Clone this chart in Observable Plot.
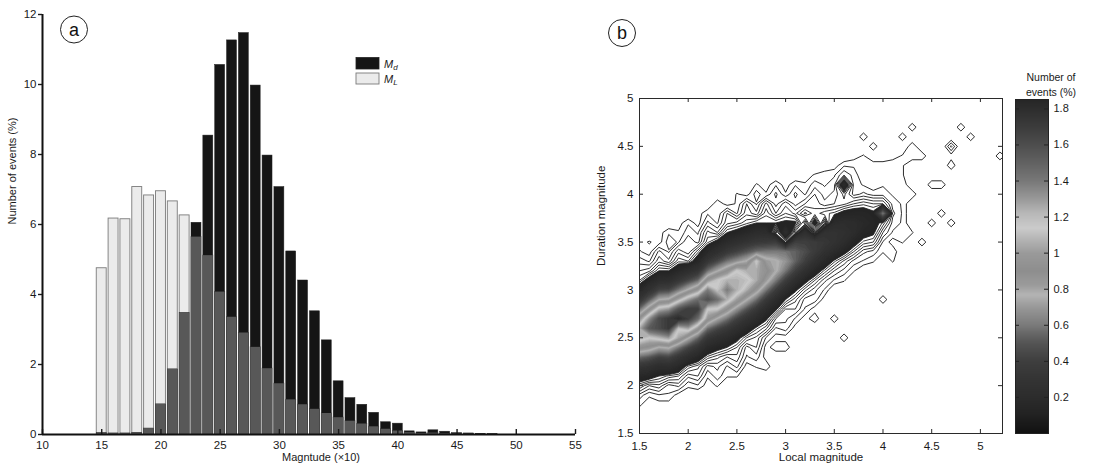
<!DOCTYPE html>
<html>
<head>
<meta charset="utf-8">
<script src="https://cdn.jsdelivr.net/npm/d3@7"></script>
<script src="https://cdn.jsdelivr.net/npm/@observablehq/plot@0.6"></script>
<style>
  body { margin: 0; background: #fff; }
  #fig { position: relative; width: 1096px; height: 468px; overflow: hidden; background: #fff; }
</style>
</head>
<body>
<div id="fig"></div>
<script>
// ---------- (a) magnitude histograms: bins are magnitude × 10 ----------
const magBins = [15,16,17,18,19,20,21,22,23,24,25,26,27,28,29,30,31,32,33,34,35,36,37,38,39,40,41,42,43,44,45,46,47,48];
// duration magnitude Md, % of events per bin
const mdPercent = [0.04,0.03,0.03,0.05,0.17,0.86,1.86,3.47,6.05,8.54,10.56,11.26,11.47,9.97,7.97,7.07,5.23,4.40,3.52,2.69,1.52,1.04,0.85,0.62,0.35,0.31,0.09,0.06,0.12,0.08,0.04,0.03,0.02,0.01];
// local magnitude ML, % of events per bin
const mlPercent = [4.75,6.17,6.15,7.07,6.83,6.95,6.66,6.26,5.64,5.11,4.07,3.35,2.90,2.49,1.88,1.45,0.99,0.85,0.72,0.60,0.48,0.38,0.30,0.22,0.15,0.10,0.05,0.03,0.04,0.02,0.01,0.01,0,0];
const magTicks = [10,15,20,25,30,35,40,45,50,55];
const pctTicks = [0,2,4,6,8,10,12];

// ---------- (b) joint distribution ML × Md, % of events per 0.1 × 0.1 cell ----------
// columns: local magnitude 1.5 … 5.2 (step 0.1); rows: duration magnitude 4.8 (top) … 1.7 (bottom)
// values are in hundredths of a percent
const localMagGrid = {first: 1.5, last: 5.2, step: 0.1};
const durationMagGrid = {first: 1.7, last: 4.8, step: 0.1};
const densityRows = [
  [0,0,0,0,0,0,0,0,0,0, 0,0,0,0,0,0,0,0,0,0, 0,0,0,0,0,0,0,0,0,0, 0,0,0,0,0,0,0,0], // 4.8
  [0,0,0,0,0,0,0,0,0,0, 0,0,0,0,0,0,0,0,0,0, 0,0,0,0,0,0,0,0,3,0, 0,0,0,3,0,0,0,0], // 4.7
  [0,0,0,0,0,0,0,0,0,0, 0,0,0,0,0,0,0,0,0,0, 0,0,0,3,0,0,0,3,0,0, 0,0,0,0,3,0,0,0], // 4.6
  [0,0,0,0,0,0,0,0,0,0, 0,0,0,0,0,0,0,0,0,0, 0,0,0,0,3,0,0,0,3,0, 0,0,5,0,0,0,0,0], // 4.5
  [0,0,0,0,0,0,0,0,0,0, 0,0,0,0,0,0,0,0,0,0, 0,0,1,2,0,0,1,2,3,3, 0,0,1,0,0,0,0,3], // 4.4
  [0,0,0,0,0,0,0,0,0,0, 0,0,0,0,0,0,0,0,0,0, 1,3,3,3,3,3,3,2,0,0, 0,0,3,0,0,0,0,0], // 4.3
  [0,0,0,0,0,0,0,0,0,0, 0,0,0,0,0,0,0,1,2,3, 3,6,4,2,3,3,2,2,0,0, 0,0,0,0,0,0,0,0], // 4.2
  [0,0,0,0,0,0,0,0,0,0, 0,0,2,1,3,1,3,2,4,3, 4,20,4,3,2,3,3,3,0,0, 3,3,0,0,0,0,0,0], // 4.1
  [0,0,0,0,0,0,0,0,0,0, 2,1,4,2,5,2,5,3,6,4, 5,8,4,5,4,4,3,2,3,0, 0,0,0,0,0,0,0,0], // 4.0
  [0,0,0,0,0,0,0,0,3,1, 2,6,3,8,4,7,4,6,7,5, 6,7,9,10,9,9,4,3,0,0, 0,0,0,0,0,0,0,0], // 3.9
  [0,0,0,0,0,0,1,3,2,6, 3,7,5,10,6,9,7,11,8,10, 11,14,15,15,13,60,5,3,0,0, 0,3,0,0,0,0,0,0], // 3.8
  [0,0,0,0,1,3,1,5,3,7, 8,10,12,12,12,13,13,3,16,3, 20,22,21,18,15,10,4,3,0,0, 3,0,3,0,0,0,0,0], // 3.7
  [0,0,1,3,2,4,3,8,6,12, 14,17,21,22,4,23,5,26,4,28, 29,26,21,15,13,6,3,3,2,0, 0,0,0,0,0,0,0,0], // 3.6
  [1,2,1,4,3,6,4,10,14,20, 25,30,35,37,39,6,41,41,38,34, 29,22,15,10,9,3,1,2,0,3, 0,0,0,0,0,0,0,0], // 3.5
  [2,1,5,3,7,5,10,18,25,35, 42,50,58,60,61,60,55,48,38,28, 20,14,9,5,4,2,3,0,0,0, 0,0,0,0,0,0,0,0], // 3.4
  [4,3,7,5,10,9,16,33,45,59, 68,78,115,84,79,70,55,41,28,18, 11,7,4,3,2,0,2,0,0,0, 0,0,0,0,0,0,0,0], // 3.3
  [6,7,12,12,17,23,31,58,75,91, 115,107,106,95,79,60,41,26,16,10, 6,4,2,0,0,0,0,0,0,0, 0,0,0,0,0,0,0,0], // 3.2
  [9,15,22,23,33,44,56,96,114,125, 125,120,106,84,61,40,24,14,9,5, 3,2,0,0,0,0,0,0,0,0, 0,0,0,0,0,0,0,0], // 3.1
  [17,28,42,44,60,78,97,139,118,140, 125,107,86,60,39,23,13,8,5,3, 0,0,0,0,0,0,0,0,0,0, 0,0,0,0,0,0,0,0], // 3.0
  [32,51,75,79,104,128,146,160,145,125, 101,78,58,37,22,12,8,4,4,1, 0,0,0,0,0,3,0,0,0,0, 0,0,0,0,0,0,0,0], // 2.9
  [57,88,122,130,157,171,170,115,114,91, 68,50,35,22,13,6,6,3,1,0, 0,0,0,0,0,0,0,0,0,0, 0,0,0,0,0,0,0,0], // 2.8
  [94,133,163,173,182,171,146,96,75,59, 42,30,21,13,6,5,3,1,3,0, 3,0,0,0,0,0,0,0,0,0, 0,0,0,0,0,0,0,0], // 2.7
  [125,155,163,173,118,128,97,58,45,35, 25,17,11,8,3,4,1,0,0,0, 0,0,0,0,0,0,0,0,0,0, 0,0,0,0,0,0,0,0], // 2.6
  [125,115,122,130,104,78,56,33,25,20, 14,9,7,3,1,1,0,0,0,0, 0,3,0,0,0,0,0,0,0,0, 0,0,0,0,0,0,0,0], // 2.5
  [94,88,75,79,60,44,31,18,14,12, 9,4,6,1,3,3,0,0,0,0, 0,0,0,0,0,0,0,0,0,0, 0,0,0,0,0,0,0,0], // 2.4
  [57,51,42,44,33,23,16,10,8,6, 7,3,4,1,0,0,0,0,0,0, 0,0,0,0,0,0,0,0,0,0, 0,0,0,0,0,0,0,0], // 2.3
  [32,28,22,23,17,10,8,4,5,3, 5,1,2,3,0,0,0,0,0,0, 0,0,0,0,0,0,0,0,0,0, 0,0,0,0,0,0,0,0], // 2.2
  [17,15,12,10,9,5,6,2,4,2, 2,0,0,0,0,0,0,0,0,0, 0,0,0,0,0,0,0,0,0,0, 0,0,0,0,0,0,0,0], // 2.1
  [9,6,7,4,5,2,3,1,2,0, 0,0,0,0,0,0,0,0,0,0, 0,0,0,0,0,0,0,0,0,0, 0,0,0,0,0,0,0,0], // 2.0
  [4,2,3,3,1,1,0,0,0,0, 0,0,0,0,0,0,0,0,0,0, 0,0,0,0,0,0,0,0,0,0, 0,0,0,0,0,0,0,0], // 1.9
  [2,1,1,1,1,0,0,0,0,0, 0,0,0,0,0,0,0,0,0,0, 0,0,0,0,0,0,0,0,0,0, 0,0,0,0,0,0,0,0], // 1.8
  [1,0,0,0,0,0,0,0,0,0, 0,0,0,0,0,0,0,0,0,0, 0,0,0,0,0,0,0,0,0,0, 0,0,0,0,0,0,0,0]  // 1.7
];
const localTicks = [1.5,2,2.5,3,3.5,4,4.5,5];
const durationTicks = [1.5,2,2.5,3,3.5,4,4.5,5];
const colorbarTicks = [0.2,0.4,0.6,0.8,1,1.2,1.4,1.6,1.8];

// grey colour map of the density panel (value in % → grey)
const cmapValues = [0, 0.05, 0.1, 0.2, 0.3, 0.4, 0.5, 0.55, 0.6, 0.7, 0.77, 0.82, 0.9, 1.0, 1.07, 1.14, 1.22, 1.3, 1.4, 1.5, 1.6, 1.7, 1.852];
const cmapGreys  = ["#111111","#191919","#222222","#2c2c2c","#343434","#3e3e3e","#545454","#656565","#7a7a7a","#989898","#b4b4b4","#9c9c9c","#8e8e8e","#9a9a9a","#b2b2b2","#cbcbcb","#b8b8b8","#999999","#787878","#626262","#4e4e4e","#3c3c3c","#262626"];

// ---------- layout ----------
const FONT = '"Liberation Sans", Arial, Helvetica, sans-serif';
const fig = document.getElementById("fig");
const baseStyle = {fontFamily: FONT, fontSize: "11.5px", color: "#1a1a1a", background: "transparent", overflow: "visible"};
function place(node, left) {
  node.style.position = "absolute";
  node.style.left = left + "px";
  node.style.top = "0px";
  fig.appendChild(node);
}

// ---------- panel (a) ----------
const histRows = magBins.map((bin, i) => ({
  bin, md: mdPercent[i], ml: mlPercent[i], shared: Math.min(mdPercent[i], mlPercent[i])
}));
const barHalf = 0.42;
const binLeft = d => d.bin - barHalf;
const binRight = d => d.bin + barHalf;
const A = {width: 590, height: 468, top: 14, bottom: 34, left: 42, right: 15};
const aInnerH = A.height - A.top - A.bottom;

const histPlot = Plot.plot({
  width: A.width, height: A.height,
  marginTop: A.top, marginBottom: A.bottom, marginLeft: A.left, marginRight: A.right,
  style: baseStyle,
  x: {domain: [10, 55]},
  y: {domain: [0, 12]},
  marks: [
    Plot.rect(histRows.filter(d => d.ml > 0), {x1: binLeft, x2: binRight, y1: 0, y2: "ml", fill: "#ebebeb", stroke: "#7a7a7a", strokeWidth: 0.9}),
    Plot.rect(histRows.filter(d => d.md > 0), {x1: binLeft, x2: binRight, y1: 0, y2: "md", fill: "#151515", stroke: "#222", strokeWidth: 0.5}),
    Plot.rect(histRows.filter(d => d.shared > 0), {x1: binLeft, x2: binRight, y1: 0, y2: "shared", fill: "#585858"}),
    Plot.tickX(magTicks, {x: d => d, insetTop: aInnerH - 5, strokeWidth: 1.4}),
    Plot.ruleY([0], {stroke: "#111", strokeWidth: 2}),
    Plot.ruleX([10], {stroke: "#111", strokeWidth: 2}),
    Plot.axisX(magTicks, {tickSize: 0, tickPadding: 6, label: null}),
    Plot.axisY(pctTicks, {tickSize: 4, tickPadding: 2, label: null, strokeWidth: 1.4}),
    Plot.text(["Magntude (×10)"], {frameAnchor: "bottom", dx: 12, dy: 26, fontSize: 11}),
    Plot.text(["Number of events (%)"], {frameAnchor: "left", rotate: -90, dx: -30, fontSize: 11})
  ]
});
place(histPlot, 0);

// ---------- panel (b) ----------
const nCols = densityRows[0].length;
const nRows = densityRows.length;
// contour grid wants the bottom row first; convert hundredths to percent
const densityValues = densityRows.slice().reverse().flat().map(v => v / 100);
const gridExtent = {
  x1: localMagGrid.first - localMagGrid.step / 2,
  x2: localMagGrid.last + localMagGrid.step / 2,
  y1: durationMagGrid.first - durationMagGrid.step / 2,
  y2: durationMagGrid.last + durationMagGrid.step / 2,
  width: nCols, height: nRows
};
// contour levels: closely spaced near zero for the sparse outskirts, then every 0.03 %
const lineLevels = [0.018, 0.032, 0.046, 0.06, 0.075, 0.09, 0.105, 0.12, 0.14, 0.16, 0.18, 0.2, 0.22, ...d3.range(0.25, 1.86, 0.03)];
const fillLevels = lineLevels.filter(t => t >= 0.12);
const colorScale = {type: "linear", domain: cmapValues, range: cmapGreys, clamp: true};

const B = {left: 580, width: 430, height: 468, top: 98, bottom: 35, mLeft: 59, mRight: 8};
const bInnerH = B.height - B.top - B.bottom;
const bInnerW = B.width - B.mLeft - B.mRight;

const densityPlot = Plot.plot({
  width: B.width, height: B.height,
  marginTop: B.top, marginBottom: B.bottom, marginLeft: B.mLeft, marginRight: B.mRight,
  style: baseStyle,
  x: {domain: [1.5, 5.227]},
  y: {domain: [1.5, 5]},
  color: colorScale,
  marks: [
    Plot.contour(densityValues, {...gridExtent, fill: Plot.identity, stroke: "none", thresholds: fillLevels, clip: true}),
    Plot.contour(densityValues, {...gridExtent, stroke: Plot.identity, fill: "none", thresholds: lineLevels, strokeWidth: 0.9, clip: true}),
    Plot.frame({stroke: "#2a2a2a", strokeWidth: 1}),
    Plot.tickX(localTicks, {x: d => d, insetTop: bInnerH - 4, stroke: "#2a2a2a"}),
    Plot.tickX(localTicks, {x: d => d, insetBottom: bInnerH - 4, stroke: "#2a2a2a"}),
    Plot.tickY(durationTicks, {y: d => d, insetRight: bInnerW - 4, stroke: "#2a2a2a"}),
    Plot.tickY(durationTicks, {y: d => d, insetLeft: bInnerW - 4, stroke: "#2a2a2a"}),
    Plot.axisX(localTicks, {tickSize: 0, tickPadding: 8, label: null, tickFormat: String}),
    Plot.axisY(durationTicks, {tickSize: 0, tickPadding: 6, label: null, tickFormat: String}),
    Plot.text(["Local magnitude"], {frameAnchor: "bottom", dy: 27, fontSize: 11.5}),
    Plot.text(["Duration magnitude"], {frameAnchor: "left", rotate: -90, dx: -38, fontSize: 11.5})
  ]
});
place(densityPlot, B.left);

// ---------- colour bar ----------
const C = {left: 1000, width: 96, height: 468, top: 99, bottom: 35, mLeft: 15, mRight: 48};
const cInnerW = C.width - C.mLeft - C.mRight;
const colorbarPlot = Plot.plot({
  width: C.width, height: C.height,
  marginTop: C.top, marginBottom: C.bottom, marginLeft: C.mLeft, marginRight: C.mRight,
  style: {...baseStyle, fontSize: "11px"},
  x: {domain: [0, 1], axis: null},
  y: {domain: [0, 1.852], axis: null},
  color: colorScale,
  marks: [
    Plot.raster({x1: 0, x2: 1, y1: 0, y2: 1.852, fill: (x, y) => y}),
    Plot.frame({stroke: "#222", strokeWidth: 1}),
    Plot.tickY(colorbarTicks, {y: d => d, insetRight: cInnerW - 4, stroke: "#222"}),
    Plot.tickY(colorbarTicks, {y: d => d, insetLeft: cInnerW - 4, stroke: "#222"}),
    Plot.axisY(colorbarTicks, {anchor: "right", tickSize: 0, tickPadding: 5, label: null, tickFormat: String}),
    Plot.text(["Number of\nevents (%)"], {frameAnchor: "top", lineAnchor: "bottom", dx: 19, dy: -4, fontSize: 10.5, lineHeight: 1.4})
  ]
});
place(colorbarPlot, C.left);

// ---------- panel letters and legend ----------
const NS = "http://www.w3.org/2000/svg";
const overlay = document.createElementNS(NS, "svg");
overlay.setAttribute("width", 1096);
overlay.setAttribute("height", 468);
overlay.style.position = "absolute";
overlay.style.left = "0px";
overlay.style.top = "0px";
overlay.style.fontFamily = FONT;
function add(tag, attrs, text) {
  const el = document.createElementNS(NS, tag);
  for (const k in attrs) el.setAttribute(k, attrs[k]);
  if (text != null) el.textContent = text;
  overlay.appendChild(el);
  return el;
}
for (const [cx, cy, letter] of [[74, 29.5, "a"], [622, 33, "b"]]) {
  add("circle", {cx, cy, r: 13.5, fill: "none", stroke: "#222", "stroke-width": 1});
  add("text", {x: cx, y: cy + 6, "text-anchor": "middle", "font-size": 18, fill: "#111"}, letter);
}
add("rect", {x: 356, y: 57.5, width: 23, height: 11.5, fill: "#151515", stroke: "#222", "stroke-width": 0.8});
add("rect", {x: 356, y: 73, width: 23, height: 11, fill: "#ebebeb", stroke: "#7a7a7a", "stroke-width": 0.9});
function legendLabel(y, sub) {
  const t = add("text", {x: 384, y, "font-size": 11, "font-style": "italic", fill: "#222"}, "M");
  const s = document.createElementNS(NS, "tspan");
  s.setAttribute("font-size", 8);
  s.setAttribute("dy", 2);
  s.textContent = sub;
  t.appendChild(s);
}
legendLabel(67.5, "d");
legendLabel(82.5, "L");
fig.appendChild(overlay);
</script>
</body>
</html>
